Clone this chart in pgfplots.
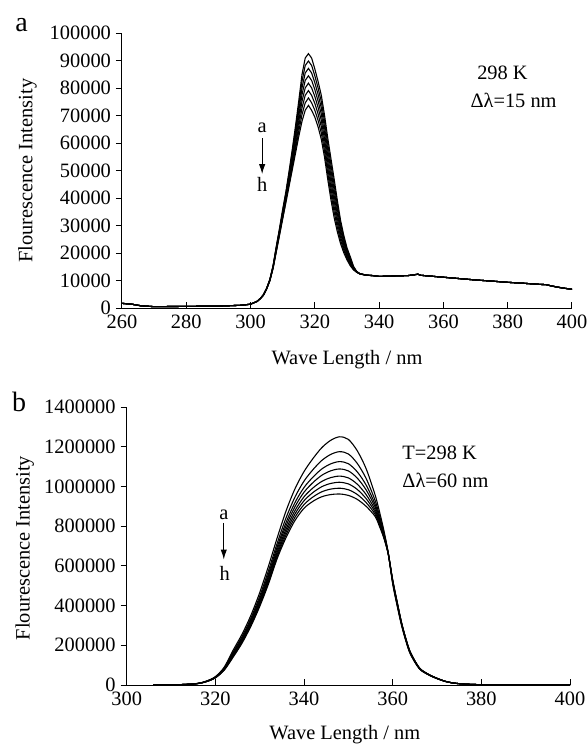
\documentclass[border=0pt]{standalone}
\usepackage{fontspec}
\setmainfont{Liberation Serif}
\usepackage{pgfplots}
\usepackage{pgfplotstable}
\pgfplotsset{compat=1.18}
\usetikzlibrary{arrows.meta}

\pgfplotstableread{
x a b c d e f g h
260 1800 1800 1800 1800 1800 1800 1800 1800
263 1500 1500 1500 1500 1500 1500 1500 1500
266 900 900 900 900 900 900 900 900
270 600 600 600 600 600 600 600 600
280 700 700 700 700 700 700 700 700
290 800 800 800 800 800 800 800 800
297 1100 1100 1100 1100 1100 1100 1100 1100
300 1500 1500 1500 1500 1500 1500 1500 1500
302 2500 2500 2500 2500 2500 2500 2500 2500
303 3500 3500 3500 3500 3500 3500 3500 3500
304 5000 4957 4914 4871 4829 4786 4743 4700
305 7300 7257 7214 7171 7129 7086 7043 7000
306 10500 10429 10357 10286 10214 10143 10071 10000
307 15500 15357 15214 15071 14929 14786 14643 14500
308 22500 22214 21929 21643 21357 21071 20786 20500
309 29000 28643 28286 27929 27571 27214 26857 26500
310 36000 35500 35000 34500 34000 33500 33000 32500
311 42500 41929 41357 40786 40214 39643 39071 38500
312 50000 49214 48429 47643 46857 46071 45286 44500
313 58000 56929 55857 54786 53714 52643 51571 50500
314 66500 65071 63643 62214 60786 59357 57929 56500
315 75500 73643 71786 69929 68071 66214 64357 62500
316 85000 82571 80143 77714 75286 72857 70429 68000
317 91000 88286 85571 82857 80143 77429 74714 72000
318 92600 89914 87229 84543 81857 79171 76486 73800
319 91000 88286 85571 82857 80143 77429 74714 72000
320 87000 84500 82000 79500 77000 74500 72000 69500
321 82500 80143 77786 75429 73071 70714 68357 66000
322 77500 75214 72929 70643 68357 66071 63786 61500
323 70300 68114 65929 63743 61557 59371 57186 55000
324 62000 59857 57714 55571 53429 51286 49143 47000
325 54500 52357 50214 48071 45929 43786 41643 39500
326 47000 45000 43000 41000 39000 37000 35000 33000
327 39200 37571 35943 34314 32686 31057 29429 27800
328 32000 30786 29571 28357 27143 25929 24714 23500
329 26500 25600 24700 23800 22900 22000 21100 20200
330 22000 21371 20743 20114 19486 18857 18229 17600
331 18800 18329 17857 17386 16914 16443 15971 15500
332 15300 15114 14929 14743 14557 14371 14186 14000
333 13400 13357 13314 13271 13229 13186 13143 13100
334 12600 12586 12571 12557 12543 12529 12514 12500
336 12100 12086 12071 12057 12043 12029 12014 12000
338 11900 11900 11900 11900 11900 11900 11900 11900
340 11600 11600 11600 11600 11600 11600 11600 11600
343 11700 11700 11700 11700 11700 11700 11700 11700
346 11800 11800 11800 11800 11800 11800 11800 11800
349 11900 11900 11900 11900 11900 11900 11900 11900
351 12200 12200 12200 12200 12200 12200 12200 12200
352 12400 12400 12400 12400 12400 12400 12400 12400
353 12000 12000 12000 12000 12000 12000 12000 12000
355 11800 11800 11800 11800 11800 11800 11800 11800
360 11300 11300 11300 11300 11300 11300 11300 11300
365 10800 10800 10800 10800 10800 10800 10800 10800
370 10300 10300 10300 10300 10300 10300 10300 10300
375 9900 9900 9900 9900 9900 9900 9900 9900
380 9450 9450 9450 9450 9450 9450 9450 9450
385 9100 9100 9100 9100 9100 9100 9100 9100
390 8700 8700 8700 8700 8700 8700 8700 8700
392 8600 8600 8600 8600 8600 8600 8600 8600
393 8300 8300 8300 8300 8300 8300 8300 8300
395 7800 7800 7800 7800 7800 7800 7800 7800
397 7400 7400 7400 7400 7400 7400 7400 7400
400 6900 6900 6900 6900 6900 6900 6900 6900
}\tabA

\pgfplotstableread{
x a b c d e f g h
306 0 0 0 0 0 0 0 0
310 500 500 500 500 500 500 500 500
313 3000 2950 2900 2850 2800 2750 2700 2650
316 8000 7740 7566 7438 7313 7205 7101 7000
318 20000 19220 18698 18313 17938 17615 17303 17000
320 42000 40440 39396 38625 37875 37230 36606 36000
322 90000 86100 83490 81563 79688 78075 76515 75000
324 175000 165900 159810 155313 150938 147175 143535 140000
326 255000 243300 235470 229688 224063 219225 214545 210000
328 350000 335700 326130 319063 312188 306275 300555 295000
330 465000 446800 434620 425625 416875 409350 402070 395000
332 600000 576600 560940 549375 538125 528450 519090 510000
334 745000 717700 699430 685938 672813 661525 650605 640000
336 880000 844900 821410 804063 787188 772675 758635 745000
338 990000 948400 920560 900000 880000 862800 846160 830000
340 1075000 1026900 994710 970938 947813 927925 908685 890000
342 1140000 1084100 1046690 1019063 992188 969075 946715 925000
344 1195000 1130780 1087802 1056063 1025188 998635 972947 948000
346 1232000 1161020 1113518 1078438 1044313 1014965 986573 959000
348 1250000 1175120 1125008 1088000 1052000 1021040 991088 962000
350 1237000 1163680 1114612 1078375 1043125 1012810 983482 955000
352 1180000 1116300 1073670 1042188 1011563 985225 959745 935000
354 1090000 1040600 1007540 983125 959375 938950 919190 900000
356 960000 931400 912260 898125 884375 872550 861110 850000
357 875000 855500 842450 832813 823438 815375 807575 800000
358 780000 769600 762640 757500 752500 748200 744040 740000
359 665000 664000 663000 662000 662000 661000 660000 660000
360 510000 515200 518680 521250 523750 525900 527980 530000
361 400000 405200 408680 411250 413750 415900 417980 420000
362 300000 303900 306510 308438 310313 311925 313485 315000
363 220000 223120 225208 226750 228250 229540 230788 232000
364 155000 157600 159340 160625 161875 162950 163990 165000
366 82000 83300 84170 84813 85438 85975 86495 87000
368 52000 52780 53302 53688 54063 54385 54697 55000
370 32000 32520 32868 33125 33375 33590 33798 34000
372 17500 17500 17500 17500 17500 17500 17500 17500
374 9000 9000 9000 9000 9000 9000 9000 9000
376 5000 5000 5000 5000 5000 5000 5000 5000
378 3000 3000 3000 3000 3000 3000 3000 3000
380 2000 2000 2000 2000 2000 2000 2000 2000
390 1200 1200 1200 1200 1200 1200 1200 1200
400 1000 1000 1000 1000 1000 1000 1000 1000
}\tabB

\pgfplotsset{
  panel/.style={
    scale only axis,
    axis x line*=bottom, axis y line*=left,
    xtick align=inside, ytick align=outside,
    major tick length=3pt,
    tick style={black, line width=0.5pt},
    axis line style={black, line width=0.5pt},
    scaled y ticks=false, scaled x ticks=false,
    /pgf/number format/assume math mode=true,
    yticklabel style={/pgf/number format/fixed, /pgf/number format/1000 sep={}, xshift=1pt},
    xticklabel style={/pgf/number format/1000 sep={}},
    tick label style={font=\fontsize{10.2}{12}\selectfont},
    label style={font=\fontsize{10.2}{12}\selectfont},
    clip=false,
  },
  spec/.style={black, line width=0.55pt, no markers},
}

\begin{document}
\begin{tikzpicture}
\useasboundingbox (0pt,0pt) rectangle (293.5pt,-372.5pt);
\node[font=\fontsize{14}{16}\selectfont] at (10.85pt,-12.5pt) {a};
\node[font=\fontsize{14}{16}\selectfont] at (9.5pt,-201pt) {b};

\begin{axis}[panel,
  at={(61pt,-154.15pt)}, anchor=south west,
  width=225pt, height=137.5pt,
  xmin=260, xmax=400, ymin=0, ymax=100000,
  xtick={260,280,300,320,340,360,380,400},
  ytick={0,10000,20000,30000,40000,50000,60000,70000,80000,90000,100000},
  xlabel={Wave Length / nm}, ylabel={Flourescence Intensity},
  xlabel style={at={(axis description cs:0.5,-0.188)}, anchor=center},
  ylabel style={at={(axis description cs:-0.21,0.5)}, anchor=center},
]
\pgfplotsinvokeforeach{a,b,c,d,e,f,g,h}{
  \addplot[spec] table[x=x, y=#1] {\tabA};
}
\node[anchor=west, inner sep=0pt, font=\fontsize{10.2}{12}\selectfont] at (axis cs:370.4,85600) {298 K};
\node[anchor=west, inner sep=0pt, font=\fontsize{10.2}{12}\selectfont] at (axis cs:368.3,75700) {Δλ=15 nm};
\node[inner sep=0pt, font=\fontsize{10.2}{12}\selectfont] at (axis cs:303.6,65600) {a};
\draw[line width=0.5pt, -{Latex[length=5pt,width=3.2pt]}] (axis cs:303.6,61900) -- (axis cs:303.6,48800);
\node[inner sep=0pt, font=\fontsize{10.2}{12}\selectfont] at (axis cs:303.6,45200) {h};
\end{axis}

\begin{axis}[panel,
  at={(63.35pt,-342.5pt)}, anchor=south west,
  width=221.65pt, height=139pt,
  xmin=300, xmax=400, ymin=0, ymax=1400000,
  xtick={300,320,340,360,380,400},
  ytick={0,200000,400000,600000,800000,1000000,1200000,1400000},
  xlabel={Wave Length / nm}, ylabel={Flourescence Intensity},
  xlabel style={at={(axis description cs:0.492,-0.18)}, anchor=center},
  ylabel style={at={(axis description cs:-0.23,0.493)}, anchor=center},
]
\pgfplotsinvokeforeach{a,b,c,d,e,f,g,h}{
  \addplot[spec, smooth] table[x=x, y=#1] {\tabB};
}
\node[anchor=west, inner sep=0pt, font=\fontsize{10.2}{12}\selectfont] at (axis cs:362.1,1168000) {T=298 K};
\node[anchor=west, inner sep=0pt, font=\fontsize{10.2}{12}\selectfont] at (axis cs:362.1,1032000) {Δλ=60 nm};
\node[inner sep=0pt, font=\fontsize{10.2}{12}\selectfont] at (axis cs:321.9,856000) {a};
\draw[line width=0.5pt, -{Latex[length=5pt,width=3.2pt]}] (axis cs:321.9,816000) -- (axis cs:321.9,632000);
\node[inner sep=0pt, font=\fontsize{10.2}{12}\selectfont] at (axis cs:322.1,564000) {h};
\end{axis}
\end{tikzpicture}
\end{document}
